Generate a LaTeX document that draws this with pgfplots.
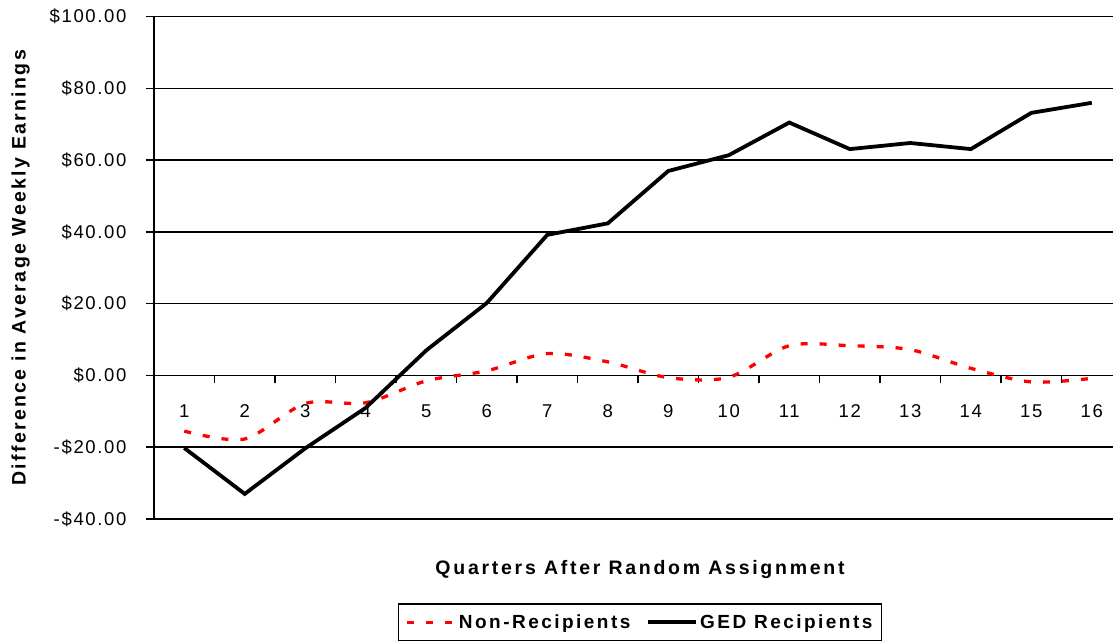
\documentclass[border=0pt]{standalone}
\usepackage{fontspec}
\setmainfont{Liberation Sans}
\newfontfamily\tickfont[LetterSpace=9]{Liberation Sans}
\newfontfamily\labfont[LetterSpace=12]{Liberation Sans}
\newfontfamily\legfont[LetterSpace=13]{Liberation Sans}
\newfontfamily\xlabfont[LetterSpace=14]{Liberation Sans}
\usepackage{pgfplots}
\pgfplotsset{compat=1.18}

\pgfplotstableread{
x y
1 -15.5
2 -17.7
3 -7.8
4 -7.6
5 -1.5
6 1.3
7 6.1
8 3.8
9 -0.6
10 -0.5
11 8.3
12 8.3
13 7.2
14 2.0
15 -1.8
16 -0.8
}\nonrec
\pgfplotstableread{
x y
1 -20.2
2 -33.0
3 -20.3
4 -9.0
5 7.0
6 20.2
7 39.2
8 42.4
9 57.0
10 61.4
11 70.5
12 63.1
13 64.8
14 63.1
15 73.2
16 76.0
}\ged

\begin{document}
\begin{tikzpicture}
\path[use as bounding box] (-154pt,-121pt) rectangle (959pt,519pt);
\begin{axis}[
  at={(0,0)}, anchor=south west,
  scale only axis, width=959pt, height=502.3pt,
  xmin=0.5, xmax=16.35, ymin=-40, ymax=100,
  axis x line=middle, axis y line=left,
  axis line style={-, line width=1.5pt, black},
  xtick={1,2,3,4,5,6,7,8,9,10,11,12,13,14,15,16},
  xticklabels={1,2,3,4,5,6,7,8,9,10,11,12,13,14,15,16},
  minor xtick={1.5,2.5,3.5,4.5,5.5,6.5,7.5,8.5,9.5,10.5,11.5,12.5,13.5,14.5,15.5},
  major x tick style={draw=none},
  ytick={-40,-20,0,20,40,60,80,100},
  yticklabels={-\$40.00,-\$20.00,\$0.00,\$20.00,\$40.00,\$60.00,\$80.00,\$100.00},
  ymajorgrids,
  grid style={black, line width=1.5pt},
  tick style={black, line width=1.5pt},
  tick align=outside,
  major tick length=8pt, minor tick length=8pt,
  ticklabel style={font=\fontsize{18.5}{21}\selectfont\tickfont},
  xticklabel style={anchor=base, yshift=-34pt},
  yticklabel style={anchor=east, xshift=-16pt},
  ylabel={Difference in Average Weekly Earnings},
  ylabel style={font=\fontsize{19.5}{22}\selectfont\labfont\bfseries, at={(axis description cs:-0.139,0.5)}, anchor=center},
  xlabel={Quarters After Random Assignment},
  xlabel style={font=\fontsize{19.5}{22}\selectfont\xlabfont\bfseries, at={(axis description cs:0.5068,0)}, anchor=base, yshift=-55pt},
  legend columns=2,
  legend style={at={(axis description cs:0.5068,0)}, anchor=north, yshift=-84pt, draw=black, line width=1.5pt,
    font=\fontsize{19}{22}\selectfont\legfont\bfseries, inner xsep=7pt, inner ysep=9pt,
    /tikz/every even column/.append style={column sep=14pt}},
  legend image code/.code={\draw[#1] (0pt,0pt) -- (48pt,0pt);},
]
\addplot[red, line width=3.3pt, dash pattern=on 7pt off 12pt, smooth] table {\nonrec};
\addlegendentry{Non-Recipients}
\addplot[black, line width=3.8pt] table {\ged};
\addlegendentry{GED Recipients}
\end{axis}
\end{tikzpicture}
\end{document}
